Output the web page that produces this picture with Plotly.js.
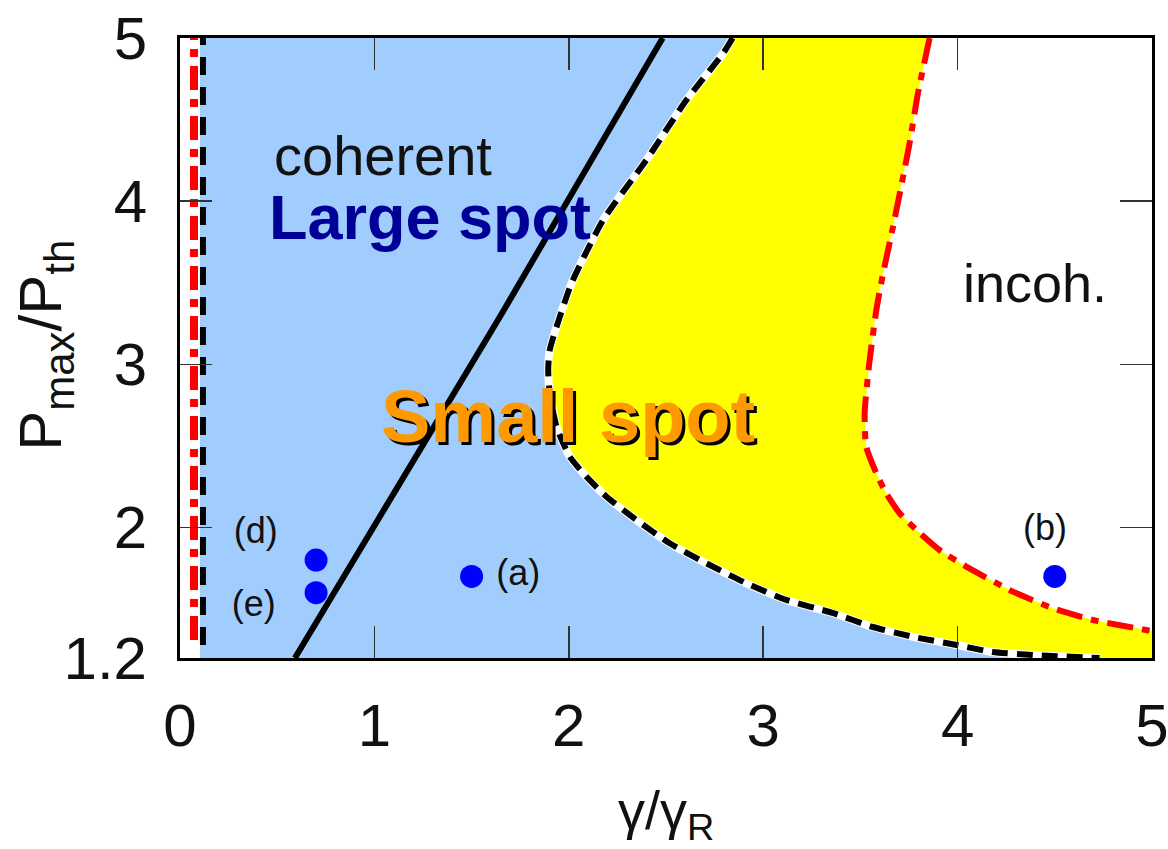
<!DOCTYPE html>
<html>
<head>
<meta charset="utf-8">
<script src="https://cdn.plot.ly/plotly-3.0.1.min.js"></script>
<style>html,body{margin:0;padding:0;background:#fff;}#chart{width:1168px;height:849px;}</style>
</head>
<body>
<div id="chart"></div>
<script>
// Boundary of the small-spot (yellow) region: black dashed curve
const dashedX = [2.843, 2.794, 2.605, 2.399, 2.177, 2.014, 1.954, 1.902, 1.894, 1.902, 1.937, 2.005, 2.091, 2.194, 2.348, 2.519, 2.708, 2.914, 3.119, 3.358, 3.564, 3.77, 3.995, 4.18, 4.386, 4.73];
const dashedY = [5.0, 4.906, 4.62, 4.252, 3.885, 3.497, 3.292, 3.088, 2.965, 2.822, 2.618, 2.434, 2.311, 2.189, 2.046, 1.903, 1.78, 1.658, 1.556, 1.476, 1.39, 1.33, 1.28, 1.237, 1.219, 1.2];
// Coherent / incoherent boundary: red dash-dot curve
const redX = [3.856, 3.796, 3.753, 3.668, 3.617, 3.582, 3.545, 3.522, 3.530, 3.582, 3.633, 3.702, 3.788, 3.907, 4.045, 4.284, 4.49, 4.696, 4.97, 5.0];
const redY = [5.0, 4.661, 4.355, 3.844, 3.558, 3.333, 3.0, 2.7, 2.495, 2.332, 2.209, 2.087, 1.985, 1.862, 1.76, 1.607, 1.505, 1.433, 1.372, 1.365];
// Black solid line
const solidX = [0.591, 1.645, 2.483];
const solidY = [1.2, 3.29, 5.0];
// Left boundaries (near gamma = 0)
const leftRedX = [0.072, 0.072];
const leftRedY = [1.31, 5.0];
const leftDashX = [0.118, 0.118];
const leftDashY = [1.28, 5.0];
const blueLeftX = 0.103;
// Marked points
const ptX = [0.7, 0.7, 1.5, 4.5];
const ptY = [1.8, 1.6, 1.7, 1.7];
const ptLabels = ["(d)", "(e)", "(a)", "(b)"];
const ptLabelX = [0.39, 0.38, 1.74, 4.45];
const ptLabelY = [1.96, 1.51, 1.70, 1.98];
// Axes
const xTicks = [0, 1, 2, 3, 4, 5];
const yTicks = [1.2, 2, 3, 4, 5];
const yTickText = ["1.2", "2", "3", "4", "5"];
const xMin = 0, xMax = 5, yMin = 1.2, yMax = 5;

// Polygons for filled regions, built from the boundary arrays
const blueX = [blueLeftX, blueLeftX].concat(dashedX);
const blueY = [yMin, yMax].concat(dashedY);
const yellowX = dashedX.concat([xMax]).concat(redX.slice().reverse());
const yellowY = dashedY.concat([yMin]).concat(redY.slice().reverse());

const FONT = "Liberation Sans, Arial, sans-serif";

const traces = [
  {x: blueX, y: blueY, mode: 'lines', fill: 'toself', fillcolor: '#a0cdfd', line: {width: 0}, hoverinfo: 'skip', showlegend: false},
  {x: yellowX, y: yellowY, mode: 'lines', fill: 'toself', fillcolor: '#ffff00', line: {width: 0}, hoverinfo: 'skip', showlegend: false},
  {x: dashedX, y: dashedY, mode: 'lines', line: {color: '#ffffff', width: 8, shape: 'spline', smoothing: 0.6}, hoverinfo: 'skip', showlegend: false},
  {x: dashedX, y: dashedY, mode: 'lines', line: {color: '#000000', width: 6, dash: '16px,9px', shape: 'spline', smoothing: 0.6}, showlegend: false},
  {x: redX, y: redY, mode: 'lines', line: {color: '#ff0000', width: 6, dash: '26px,9px,8px,9px', shape: 'spline', smoothing: 0.6}, showlegend: false},
  {x: solidX, y: solidY, mode: 'lines', line: {color: '#000000', width: 6}, showlegend: false},
  {x: leftRedX, y: leftRedY, mode: 'lines', line: {color: '#ff0000', width: 8, dash: '24px,9px,8px,9px'}, showlegend: false},
  {x: leftDashX, y: leftDashY, mode: 'lines', line: {color: '#000000', width: 6, dash: '18px,12px'}, showlegend: false},
  {x: ptX, y: ptY, mode: 'markers', marker: {color: '#0000ff', size: 23}, showlegend: false},
  {x: ptLabelX, y: ptLabelY, mode: 'text', text: ptLabels, textfont: {family: FONT, size: 36, color: '#111'}, showlegend: false}
];

const annotations = [
  {x: 1.044, y: 4.28, xref: 'x', yref: 'y', text: 'coherent', showarrow: false, font: {family: FONT, size: 56, color: '#111'}},
  {x: 1.285, y: 3.90, xref: 'x', yref: 'y', text: '<b>Large spot</b>', showarrow: false, font: {family: FONT, size: 63, color: '#000099'}},
  {x: 1.995, y: 2.68, xref: 'x', yref: 'y', text: '<b>Small spot</b>', showarrow: false, xshift: 3, yshift: -3, font: {family: FONT, size: 74, color: '#000000'}},
  {x: 1.995, y: 2.68, xref: 'x', yref: 'y', text: '<b>Small spot</b>', showarrow: false, font: {family: FONT, size: 74, color: '#ff9900'}},
  {x: 4.396, y: 3.50, xref: 'x', yref: 'y', text: 'incoh.', showarrow: false, font: {family: FONT, size: 54, color: '#111'}},
  {x: -0.139, y: 0.505, xref: 'paper', yref: 'paper', xanchor: 'center', yanchor: 'middle', text: 'P<sub>max</sub>/P<sub>th</sub>', textangle: -90, showarrow: false, font: {family: FONT, size: 60, color: '#111'}},
  {x: 0.5, y: -0.252, xref: 'paper', yref: 'paper', xanchor: 'center', yanchor: 'middle', text: 'γ/γ<sub>R</sub>', showarrow: false, font: {family: FONT, size: 54, color: '#111'}}
];

const layout = {
  width: 1168, height: 849,
  margin: {l: 180, r: 16, t: 38, b: 191},
  paper_bgcolor: '#ffffff', plot_bgcolor: '#ffffff',
  showlegend: false,
  xaxis: {range: [xMin, xMax], tickvals: xTicks, ticks: 'inside', ticklen: 32, tickwidth: 1.5, tickcolor: '#333',
          showline: true, linewidth: 3, linecolor: '#000', mirror: 'ticks', showgrid: false, zeroline: false,
          tickfont: {family: FONT, size: 60, color: '#111'}, ticklabelstandoff: 13, ticklabeloverflow: 'allow'},
  yaxis: {range: [yMin, yMax], tickvals: yTicks, ticktext: yTickText, ticks: 'inside', ticklen: 32, tickwidth: 1.5, tickcolor: '#333',
          showline: true, linewidth: 3, linecolor: '#000', mirror: 'ticks', showgrid: false, zeroline: false,
          tickfont: {family: FONT, size: 60, color: '#111'}, ticklabelstandoff: 18, ticklabeloverflow: 'allow'},
  annotations: annotations
};

Plotly.newPlot('chart', traces, layout, {staticPlot: true, displayModeBar: false});
</script>
</body>
</html>
